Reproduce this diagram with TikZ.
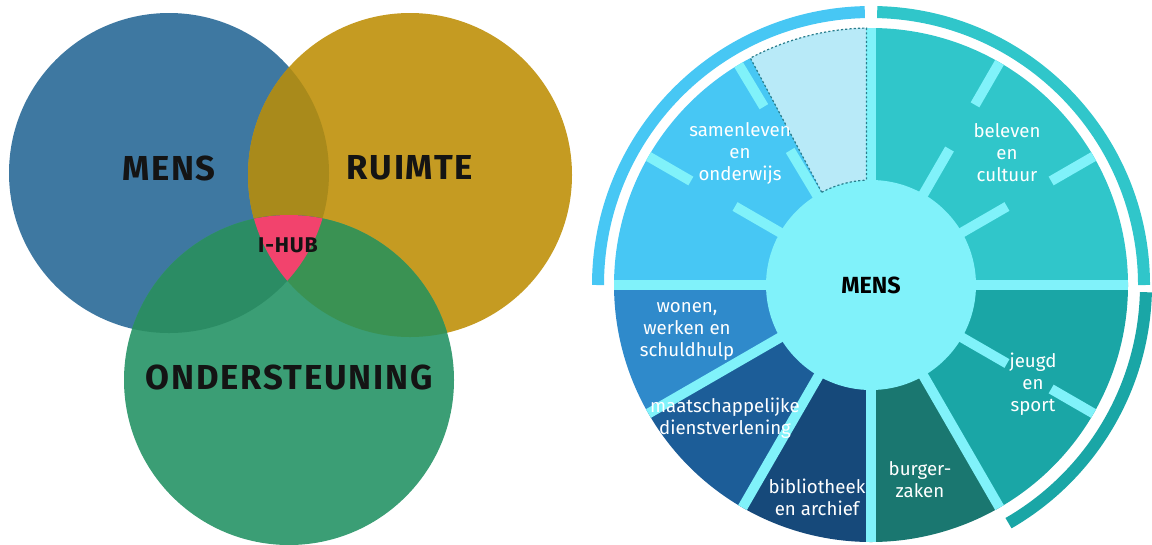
\documentclass[tikz,border=0pt]{standalone}
\usepackage{fontspec}
\setmainfont{Fira Sans}

\definecolor{mensblue}{HTML}{3E78A1}
\definecolor{ruimtegold}{HTML}{C59B22}
\definecolor{ondergreen}{HTML}{3B9E75}
\definecolor{mensruimte}{HTML}{A98A1B}
\definecolor{mensonder}{HTML}{2B8C64}
\definecolor{ruimteonder}{HTML}{3A9253}
\definecolor{hubpink}{HTML}{F2436D}
\definecolor{hubcyan}{HTML}{80F2FA}
\definecolor{samenblue}{HTML}{47C7F4}
\definecolor{samenpale}{HTML}{B8EAF8}
\definecolor{belevteal}{HTML}{30C6CA}
\definecolor{jeugdteal}{HTML}{1AA6A6}
\definecolor{burgerteal}{HTML}{1A7770}
\definecolor{biblnavy}{HTML}{16497A}
\definecolor{maatblue}{HTML}{1C5D98}
\definecolor{wonenblue}{HTML}{2F8ACB}
\definecolor{dotline}{HTML}{2A7D8C}

\tikzset{
  venntext/.style={font=\bfseries\fontsize{26}{26}\selectfont\addfontfeature{LetterSpace=5}, text=black!92},
  wheeltext/.style={font=\fontsize{14}{16.5}\selectfont, text=white, align=center},
  spoke/.style={draw=hubcyan, line width=7.5pt},
  band/.style={line width=9pt},
}

\begin{document}
\begin{tikzpicture}[x=0.75pt,y=0.75pt]
  \useasboundingbox (0,0) rectangle (1152,-544);
  % venn
  \coordinate (mens) at (169,-173);
  \coordinate (ruimte) at (410,-175);
  \coordinate (onder) at (289,-380);
  \fill[mensblue] (mens) circle (160);
  \fill[ruimtegold] (ruimte) circle (162);
  \fill[ondergreen] (onder) circle (165);
  \begin{scope}
    \clip (mens) circle (160);
    \fill[mensruimte] (ruimte) circle (162);
    \fill[mensonder] (onder) circle (165);
  \end{scope}
  \begin{scope}
    \clip (ruimte) circle (162);
    \fill[ruimteonder] (onder) circle (165);
  \end{scope}
  \begin{scope}
    \clip (mens) circle (160);
    \clip (ruimte) circle (162);
    \fill[hubpink] (onder) circle (165);
  \end{scope}
  \node[venntext] (mensl) at (169,-168) {MENS};
  \node[venntext] (ruimtel) at (410,-168) {RUIMTE};
  \node[venntext] (onderl) at (289,-377) {ONDERSTEUNING};
  \node[venntext, font=\bfseries\fontsize{16}{16}\selectfont\addfontfeature{LetterSpace=4}] (hub) at (288,-245) {I-HUB};

  % wheel
  \begin{scope}[shift={(871,-285)}]
    \fill[belevteal] (0,0) -- (0:257) arc[start angle=0, end angle=90, radius=257] -- cycle;
    \fill[samenpale] (0,0) -- (90:257) arc[start angle=90, end angle=118, radius=257] -- cycle;
    \fill[samenblue] (0,0) -- (118:257) arc[start angle=118, end angle=180, radius=257] -- cycle;
    \fill[wonenblue] (0,0) -- (180:257) arc[start angle=180, end angle=210, radius=257] -- cycle;
    \fill[maatblue] (0,0) -- (210:257) arc[start angle=210, end angle=240, radius=257] -- cycle;
    \fill[biblnavy] (0,0) -- (240:257) arc[start angle=240, end angle=270, radius=257] -- cycle;
    \fill[burgerteal] (0,0) -- (270:257) arc[start angle=270, end angle=300, radius=257] -- cycle;
    \fill[jeugdteal] (0,0) -- (300:257) arc[start angle=300, end angle=360, radius=257] -- cycle;
    \foreach \a in {0,90,180,210,240,270,300}
      \draw[spoke] (0,0) -- (\a:257);
    \foreach \a in {30,60,121,150,330} {
      \draw[spoke] (\a:100) -- (\a:157);
      \draw[spoke] (\a:208) -- (\a:257);
    }
    \draw[dotline, line width=0.9pt, dash pattern=on 1.6pt off 1.6pt]
      (118:105) -- (118:257) arc[start angle=118, end angle=91, radius=257] -- (-4.5,105);
    \fill[hubcyan] (0,0) circle (105);
    \draw[dotline, line width=0.9pt, dash pattern=on 1.6pt off 1.6pt]
      (118:105) arc[start angle=118, end angle=92.5, radius=105];
    \draw[band, samenblue] (91.3:273) arc[start angle=91.3, end angle=180, radius=273];
    \draw[band, belevteal] (88.7:273) arc[start angle=88.7, end angle=0, radius=273];
    \draw[band, jeugdteal] (-1.5:275) arc[start angle=-1.5, end angle=-60, radius=275];
    \node[font=\bfseries\fontsize{17.5}{17.5}\selectfont] (wheelmens) at (0,0) {MENS};
    \node[wheeltext] (samen) at (-131,132) {samenleven\\en\\onderwijs};
    \node[wheeltext] (beleven) at (136,132) {beleven\\en\\cultuur};
    \node[wheeltext] (wonen) at (-184,-46) {wonen,\\werken en\\schuldhulp};
    \node[wheeltext] (maat) at (-146,-133) {maatschappelijke\\dienstverlening};
    \node[wheeltext] (bibl) at (-54,-212) {bibliotheek\\en archief};
    \node[wheeltext] (burger) at (49,-195) {burger-\\zaken};
    \node[wheeltext] (jeugd) at (162,-99) {jeugd\\en\\sport};
  \end{scope}
\end{tikzpicture}
\end{document}
